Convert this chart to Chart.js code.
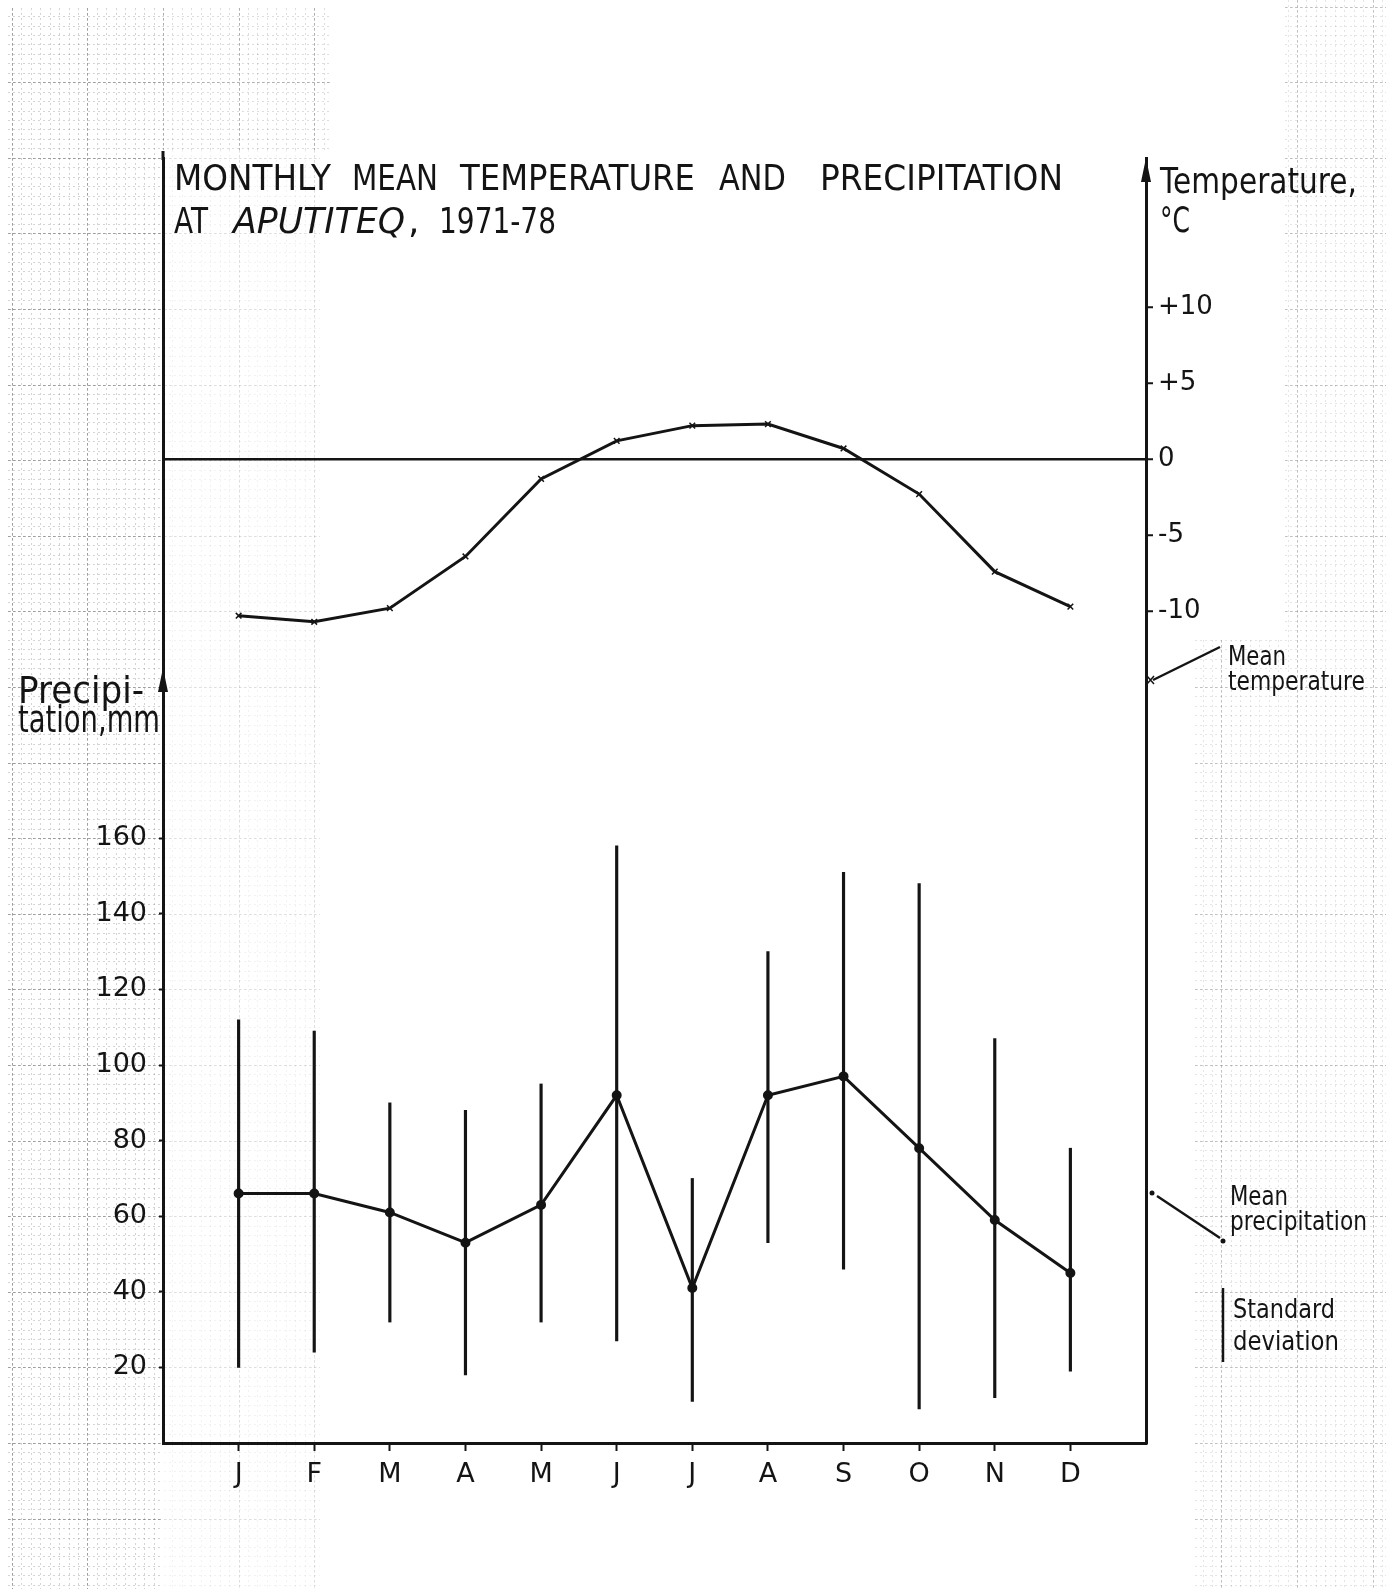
<!DOCTYPE html>
<html>
<head>
<meta charset="utf-8">
<title>Monthly mean temperature and precipitation at Aputiteq, 1971-78</title>
<script src="https://cdn.jsdelivr.net/npm/chart.js@4.4.1/dist/chart.umd.min.js"></script>
<style>
  html, body { margin: 0; padding: 0; background: #fff; }
  #wrap { width: 1386px; height: 1589px; }
</style>
</head>
<body>
<div id="wrap"><canvas id="climateChart" width="1386" height="1589"></canvas></div>
<script>
// data
const months = ['J', 'F', 'M', 'A', 'M', 'J', 'J', 'A', 'S', 'O', 'N', 'D'];
const meanTemp = [-10.3, -10.7, -9.8, -6.4, -1.3, 1.2, 2.2, 2.3, 0.7, -2.3, -7.4, -9.7];
const meanPrecip = [66, 66, 61, 53, 63, 92, 41, 92, 97, 78, 59, 45];
const sdHigh = [112, 109, 90, 88, 95, 158, 70, 130, 151, 148, 107, 78];
const sdLow = [20, 24, 32, 18, 32, 27, 11, 53, 46, 9, 12, 19];
const precipTicks = [20, 40, 60, 80, 100, 120, 140, 160];
const tempTicks = [-10, -5, 0, 5, 10];
const tempTickLabels = ['-10', '-5', '0', '+5', '+10'];

const INK = '#141414';
const FONT = 'DejaVu Sans';

// draw text squeezed / stretched to a given width
function fitText(ctx, text, x, y, width, font) {
  ctx.font = font;
  const w = ctx.measureText(text).width;
  ctx.save();
  ctx.translate(x, y);
  ctx.scale(width / w, 1);
  ctx.fillText(text, 0, 0);
  ctx.restore();
}

function arrowUp(ctx, x, tipY) {
  ctx.beginPath();
  ctx.moveTo(x, tipY);
  ctx.lineTo(x - 5, tipY + 24);
  ctx.lineTo(x + 5, tipY + 24);
  ctx.closePath();
  ctx.fill();
}

// graph paper showing at the edges of the scan
const paper = {
  id: 'paper',
  beforeDraw(chart) {
    const ctx = chart.ctx;
    ctx.save();
    ctx.fillStyle = '#fff';
    ctx.fillRect(0, 0, chart.width, chart.height);
    const areas = [
      [8, 8, 162, 1589, 1],
      [162, 8, 330, 150, 0.8],
      [164, 150, 320, 1589, 0.3],
      [1285, 0, 1386, 640, 0.6],
      [1195, 640, 1386, 1589, 0.6]
    ];
    const major = 75.6, minor = major / 8;
    areas.forEach(([x0, y0, x1, y1, a]) => {
      ctx.save();
      ctx.beginPath();
      ctx.rect(x0, y0, x1 - x0, y1 - y0);
      ctx.clip();
      ctx.lineWidth = 1;
      ctx.setLineDash([2, 3]);
      ctx.strokeStyle = 'rgba(90,90,90,' + (0.26 * a) + ')';
      ctx.beginPath();
      for (let x = 163 - major * 3; x < 1400; x += minor) { ctx.moveTo(Math.round(x) + 0.5, y0); ctx.lineTo(Math.round(x) + 0.5, y1); }
      for (let y = 1443 - major * 20; y < 1600; y += minor) { ctx.moveTo(x0, Math.round(y) + 0.5); ctx.lineTo(x1, Math.round(y) + 0.5); }
      ctx.stroke();
      ctx.setLineDash([3, 2]);
      ctx.strokeStyle = 'rgba(70,70,70,' + (0.38 * a) + ')';
      ctx.beginPath();
      for (let x = 163 - major * 3; x < 1400; x += major) { ctx.moveTo(Math.round(x) + 0.5, y0); ctx.lineTo(Math.round(x) + 0.5, y1); }
      for (let y = 1443 - major * 20; y < 1600; y += major) { ctx.moveTo(x0, Math.round(y) + 0.5); ctx.lineTo(x1, Math.round(y) + 0.5); }
      ctx.stroke();
      ctx.restore();
    });
    ctx.restore();
  }
};

// title, axis captions, arrows and the key on the right
const lettering = {
  id: 'lettering',
  afterDraw(chart) {
    const ctx = chart.ctx;
    ctx.save();
    ctx.fillStyle = INK;
    ctx.strokeStyle = INK;
    ctx.textBaseline = 'alphabetic';

    const big = '36px "' + FONT + '"';
    [['MONTHLY', 174, 331], ['MEAN', 352, 438], ['TEMPERATURE', 460, 695], ['AND', 719, 786], ['PRECIPITATION', 820, 1063]]
      .forEach(([t, a, b]) => fitText(ctx, t, a, 190, b - a, big));
    fitText(ctx, 'AT', 174, 233, 34, big);
    fitText(ctx, 'APUTITEQ', 233, 233, 172, 'italic ' + big);
    ctx.font = big;
    ctx.fillText(',', 408, 233);
    fitText(ctx, '1971-78', 439, 233, 117, big);

    fitText(ctx, 'Temperature,', 1160, 193, 197, big);
    fitText(ctx, '°C', 1160, 232, 30, big);
    fitText(ctx, 'Precipi-', 18, 703, 126, '38px "' + FONT + '"');
    fitText(ctx, 'tation,mm', 18, 732, 142, '38px "' + FONT + '"');

    // axis extras
    ctx.lineWidth = 3;
    ctx.beginPath();
    ctx.moveTo(163, 151); ctx.lineTo(163, 160);
    ctx.stroke();
    arrowUp(ctx, 1146, 158);
    arrowUp(ctx, 163, 668);

    // key
    const small = '26px "' + FONT + '"';
    ctx.lineWidth = 2.5;
    ctx.beginPath();
    ctx.moveTo(1153, 680); ctx.lineTo(1220, 647);
    ctx.stroke();
    ctx.lineWidth = 1.5;
    ctx.beginPath();
    ctx.moveTo(1147, 676); ctx.lineTo(1154, 684);
    ctx.moveTo(1154, 676); ctx.lineTo(1147, 684);
    ctx.stroke();
    fitText(ctx, 'Mean', 1228, 665, 58, small);
    fitText(ctx, 'temperature', 1228, 690, 137, small);

    ctx.lineWidth = 2.5;
    ctx.beginPath();
    ctx.moveTo(1157, 1196); ctx.lineTo(1220, 1238);
    ctx.stroke();
    [[1152, 1193], [1223, 1241]].forEach(([x, y]) => {
      ctx.beginPath(); ctx.arc(x, y, 2.5, 0, Math.PI * 2); ctx.fill();
    });
    fitText(ctx, 'Mean', 1230, 1205, 58, small);
    fitText(ctx, 'precipitation', 1230, 1230, 137, small);

    ctx.beginPath();
    ctx.moveTo(1223, 1288); ctx.lineTo(1223, 1362);
    ctx.stroke();
    fitText(ctx, 'Standard', 1233, 1318, 102, small);
    fitText(ctx, 'deviation', 1233, 1350, 106, small);
    ctx.restore();
  }
};

const ctx = document.getElementById('climateChart').getContext('2d');
new Chart(ctx, {
  type: 'line',
  data: {
    datasets: [
      {
        type: 'bar',
        label: 'Standard deviation',
        yAxisID: 'yPrecip',
        data: months.map((m, i) => ({ x: i, y: [sdLow[i], sdHigh[i]] })),
        backgroundColor: INK,
        borderWidth: 0,
        barThickness: 2.5,
        grouped: false,
        order: 3
      },
      {
        label: 'Mean precipitation',
        yAxisID: 'yPrecip',
        data: months.map((m, i) => ({ x: i, y: meanPrecip[i] })),
        borderColor: INK,
        borderWidth: 3,
        pointRadius: 3.5,
        pointBackgroundColor: INK,
        pointBorderColor: INK,
        tension: 0,
        order: 1
      },
      {
        label: 'Mean temperature',
        yAxisID: 'yTemp',
        data: months.map((m, i) => ({ x: i, y: meanTemp[i] })),
        borderColor: INK,
        borderWidth: 3,
        pointStyle: 'crossRot',
        pointRadius: 4,
        pointBorderWidth: 1.5,
        pointBorderColor: INK,
        tension: 0,
        order: 2
      }
    ]
  },
  options: {
    responsive: false,
    animation: false,
    devicePixelRatio: 1,
    layout: { padding: { top: 158, left: 0, right: 0, bottom: 0 } },
    plugins: {
      legend: { display: false },
      title: { display: false },
      tooltip: { enabled: false }
    },
    scales: {
      x: {
        type: 'linear',
        min: -1,
        max: 12,
        offset: false,
        afterBuildTicks: s => { s.ticks = months.map((m, i) => ({ value: i })); },
        afterFit: s => { s.height = 146; },
        ticks: {
          autoSkip: false,
          maxRotation: 0,
          padding: 8,
          color: INK,
          font: { family: FONT, size: 27 },
          callback: v => months[v]
        },
        grid: { offset: false, drawOnChartArea: false, tickLength: 8, tickWidth: 2, tickColor: INK },
        border: { color: INK, width: 3 }
      },
      yPrecip: {
        type: 'linear',
        position: 'left',
        min: 0,
        max: 340,
        afterBuildTicks: s => { s.ticks = precipTicks.map(v => ({ value: v })); },
        afterFit: s => { s.width = 163; },
        ticks: {
          padding: 12,
          color: INK,
          font: { family: FONT, size: 27 },
          callback: v => String(v)
        },
        grid: { drawOnChartArea: false, tickLength: 4, tickWidth: 2, tickColor: INK },
        border: { color: INK, width: 3 }
      },
      yTemp: {
        type: 'linear',
        position: 'right',
        min: -64.7,
        max: 19.8,
        afterBuildTicks: s => { s.ticks = tempTicks.map(v => ({ value: v })); },
        afterFit: s => { s.width = 240; },
        ticks: {
          padding: 5,
          color: INK,
          font: { family: FONT, size: 26 },
          callback: v => tempTickLabels[tempTicks.indexOf(v)]
        },
        grid: {
          color: c => (c.tick && c.tick.value === 0 ? INK : 'rgba(0,0,0,0)'),
          lineWidth: 2.5,
          tickLength: 7,
          tickWidth: 2,
          tickColor: INK
        },
        border: { color: INK, width: 3 }
      }
    }
  },
  plugins: [paper, lettering]
});
</script>
</body>
</html>
